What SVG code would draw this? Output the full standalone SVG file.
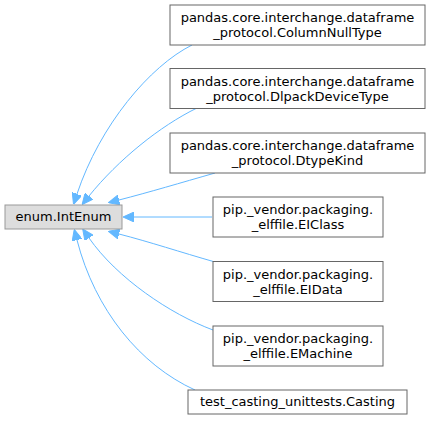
<svg xmlns="http://www.w3.org/2000/svg" width="431" height="421" viewBox="0 0 431 421">
<style>
.n rect{fill:#ffffff;stroke:#666666;stroke-width:1}
.root rect{fill:#dddddd;stroke:#999999;stroke-width:1}
text{font-family:"DejaVu Sans",sans-serif;font-size:13px;fill:#000000;text-anchor:middle}
.e path{fill:none;stroke:#63b8ff;stroke-width:1}
</style>
<defs>
<marker id="ah" viewBox="0 0 11 10" refX="0" refY="5" markerWidth="11" markerHeight="10" markerUnits="userSpaceOnUse" orient="auto">
<path d="M0,0 L11,5 L0,10 z" fill="#63b8ff" stroke="#63b8ff" stroke-width="1"/>
</marker>
</defs>
<g class="e" id="edges">
<path d="M192,45 C150,66 100,125 77,194" marker-end="url(#ah)"/>
<path d="M197,108 C160,126 118,160 89,196" marker-end="url(#ah)"/>
<path d="M215,173 C180,183 150,192 119,200" marker-end="url(#ah)"/>
<path d="M212,217 L134,217" marker-end="url(#ah)"/>
<path d="M215,262 C180,252 150,242 119,234" marker-end="url(#ah)"/>
<path d="M213,330 C170,314 117,278 89,238" marker-end="url(#ah)"/>
<path d="M195,390 C140,365 95,310 77,240" marker-end="url(#ah)"/>
</g>
<g class="root" id="node_intenum"><rect x="5" y="205" width="117" height="24"/><text x="63.5" y="221">enum.IntEnum</text></g>
<g class="n" id="node_columnnulltype"><rect x="170" y="5" width="255" height="40"/><text x="297.5" y="22">pandas.core.interchange.dataframe</text><text x="297.5" y="37">_protocol.ColumnNullType</text></g>
<g class="n" id="node_dlpackdevicetype"><rect x="170" y="68.5" width="255" height="40"/><text x="297.5" y="85.5">pandas.core.interchange.dataframe</text><text x="297.5" y="100.5">_protocol.DlpackDeviceType</text></g>
<g class="n" id="node_dtypekind"><rect x="170" y="133" width="255" height="40"/><text x="297.5" y="150">pandas.core.interchange.dataframe</text><text x="297.5" y="165">_protocol.DtypeKind</text></g>
<g class="n" id="node_elclass"><rect x="213" y="197" width="170" height="40"/><text x="298" y="214">pip._vendor.packaging.</text><text x="298" y="229">_elffile.EIClass</text></g>
<g class="n" id="node_eldata"><rect x="213" y="261.5" width="170" height="40"/><text x="298" y="278.5">pip._vendor.packaging.</text><text x="298" y="293.5">_elffile.EIData</text></g>
<g class="n" id="node_emachine"><rect x="213" y="326" width="170" height="40"/><text x="298" y="343">pip._vendor.packaging.</text><text x="298" y="358">_elffile.EMachine</text></g>
<g class="n" id="node_casting"><rect x="188" y="390" width="219" height="24"/><text x="297.5" y="406">test_casting_unittests.Casting</text></g>
</svg>
